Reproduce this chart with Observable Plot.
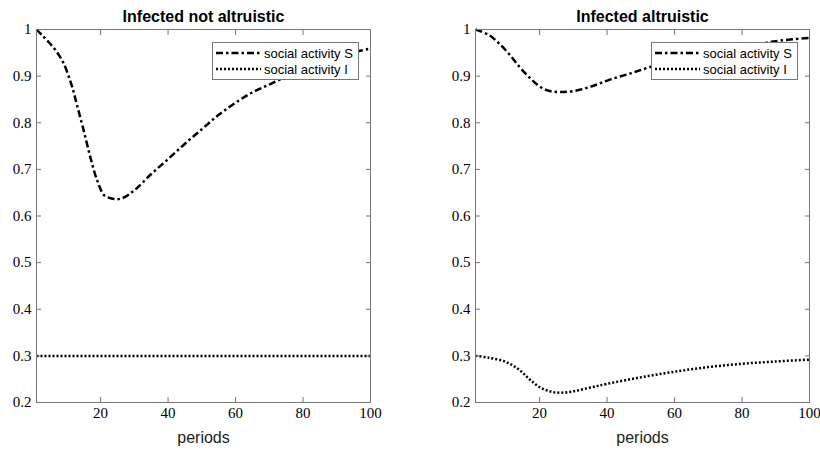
<!DOCTYPE html>
<html>
<head>
<meta charset="utf-8">
<script src="https://cdn.jsdelivr.net/npm/d3@7"></script>
<script src="https://cdn.jsdelivr.net/npm/@observablehq/plot@0.6"></script>
<style>
  html, body { margin: 0; padding: 0; background: #fff; }
  #wrap { position: relative; width: 820px; height: 450px; }
  .panel { position: absolute; top: 0; width: 410px; height: 450px; }
  .legend { position: absolute; background: #fff; border: 1px solid #777; box-sizing: border-box;
            font-family: "Liberation Sans", Arial, sans-serif; font-size: 13px; color: #000; }
  .legend .row { position: absolute; left: 3px; height: 16px; display: flex; align-items: center; white-space: nowrap; }
  .legend svg { display: block; margin-right: 3px; }
</style>
</head>
<body>
<div id="wrap"></div>
<script>
// ---- data ----
const titles = ["Infected not altruistic", "Infected altruistic"];
const seriesNames = ["social activity S", "social activity I"];
const xTicks = [20, 40, 60, 80, 100];
const yTicks = [0.2, 0.3, 0.4, 0.5, 0.6, 0.7, 0.8, 0.9, 1];

// Left panel (infected not altruistic)
const leftSPeriods = [1, 3, 5, 7, 9, 11, 12, 13, 15, 17, 19, 21, 23, 25, 27, 30, 35, 40, 45, 50, 55, 60, 65, 70, 75, 80, 85, 90, 95, 100];
const leftSValues  = [1.0, 0.985, 0.97, 0.952, 0.928, 0.89, 0.866, 0.838, 0.783, 0.725, 0.676, 0.645, 0.638, 0.636, 0.64, 0.655, 0.69, 0.722, 0.755, 0.786, 0.817, 0.843, 0.865, 0.882, 0.899, 0.914, 0.928, 0.94, 0.951, 0.959];
const leftIPeriods = [1, 100];
const leftIValues  = [0.3, 0.3];

// Right panel (infected altruistic)
const rightSPeriods = [1, 5, 8, 11, 14, 17, 20, 23, 26, 30, 35, 41, 47, 53, 60, 70, 80, 85, 90, 95, 100];
const rightSValues  = [1.0, 0.988, 0.97, 0.947, 0.92, 0.897, 0.878, 0.868, 0.866, 0.868, 0.877, 0.893, 0.906, 0.92, 0.933, 0.95, 0.963, 0.969, 0.975, 0.979, 0.982];
const rightIPeriods = [1, 5, 10, 14, 17, 20, 23, 26, 30, 35, 40, 50, 60, 70, 80, 90, 100];
const rightIValues  = [0.3, 0.296, 0.287, 0.27, 0.25, 0.233, 0.224, 0.221, 0.224, 0.232, 0.24, 0.254, 0.266, 0.276, 0.283, 0.288, 0.292];

const dashS = "7,3,2.5,3";
const dashI = "2,2";
const serif = "'Liberation Serif', 'DejaVu Serif', serif";
const sans = "'Liberation Sans', Arial, sans-serif";

function toRows(xs, ys) { return xs.map((x, i) => ({x, y: ys[i]})); }

function panel(title, sRows, iRows, marginLeft, marginRight) {
  const tickText = { fontFamily: serif, fontSize: 15, fill: "#000" };
  return Plot.plot({
    width: 410, height: 450,
    marginTop: 29, marginBottom: 48, marginLeft, marginRight,
    style: `font-family: ${serif}; font-size: 15px; color: #000; background: #fff;`,
    x: { domain: [1, 100] },
    y: { domain: [0.2, 1] },
    marks: [
      Plot.line(iRows, { x: "x", y: "y", stroke: "#000", strokeWidth: 2.5, strokeDasharray: dashI, strokeLinecap: "butt", curve: "catmull-rom" }),
      Plot.line(sRows, { x: "x", y: "y", stroke: "#000", strokeWidth: 2.5, strokeDasharray: dashS, strokeLinecap: "butt", curve: "catmull-rom" }),
      Plot.frame({ stroke: "#777" }),
      Plot.axisX(xTicks, { anchor: "bottom", tickSize: -5, tickPadding: 10, stroke: "#777", label: null, tickFormat: d3.format("~g"), ...tickText }),
      Plot.axisX(xTicks, { anchor: "top", tickSize: -5, stroke: "#777", label: null, tickFormat: () => "" }),
      Plot.axisY(yTicks, { anchor: "left", tickSize: -5, tickPadding: 10, stroke: "#777", label: null, tickFormat: d3.format("~g"), ...tickText }),
      Plot.axisY(yTicks, { anchor: "right", tickSize: -5, stroke: "#777", label: null, tickFormat: () => "" }),
      Plot.text([title], { text: d => d, frameAnchor: "top", dy: -8, lineAnchor: "bottom", fontFamily: sans, fontWeight: "bold", fontSize: 16, fill: "#000" }),
      Plot.text(["periods"], { text: d => d, frameAnchor: "bottom", dy: 40, lineAnchor: "bottom", fontFamily: sans, fontSize: 16, fill: "#222" })
    ]
  });
}

function legend(left, top, w, h) {
  const div = document.createElement("div");
  div.className = "legend";
  Object.assign(div.style, { left: left + "px", top: top + "px", width: w + "px", height: h + "px" });
  const dashes = [dashS, dashI];
  seriesNames.forEach((name, i) => {
    const row = document.createElement("div");
    row.className = "row";
    row.style.top = (i === 0 ? 2 : 18) + "px";
    row.innerHTML = `<svg width="45" height="6"><line x1="0" x2="45" y1="3" y2="3" stroke="#000" stroke-width="2.5" stroke-linecap="butt" stroke-dasharray="${dashes[i]}"/></svg><span>${name}</span>`;
    div.appendChild(row);
  });
  return div;
}

const wrap = document.getElementById("wrap");
const configs = [
  { left: 0, title: titles[0], s: toRows(leftSPeriods, leftSValues), i: toRows(leftIPeriods, leftIValues), ml: 36, mr: 40, lg: [212, 42] },
  { left: 410, title: titles[1], s: toRows(rightSPeriods, rightSValues), i: toRows(rightIPeriods, rightIValues), ml: 65, mr: 11, lg: [241, 42] }
];
configs.forEach(c => {
  const p = document.createElement("div");
  p.className = "panel";
  p.style.left = c.left + "px";
  p.appendChild(panel(c.title, c.s, c.i, c.ml, c.mr));
  p.appendChild(legend(c.lg[0], c.lg[1], 147, 38));
  wrap.appendChild(p);
});
</script>
</body>
</html>
